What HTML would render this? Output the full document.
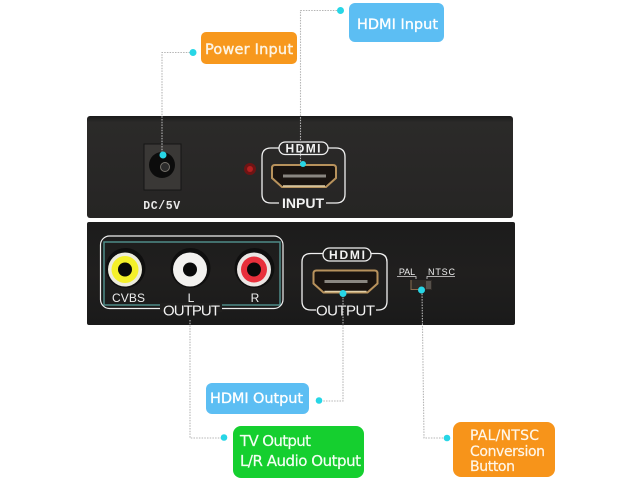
<!DOCTYPE html>
<html><head><meta charset="utf-8"><style>
html,body{margin:0;padding:0;background:#fff;width:640px;height:480px;overflow:hidden}
svg{display:block}
</style></head><body>
<svg width="640" height="480" viewBox="0 0 640 480" xmlns="http://www.w3.org/2000/svg" font-family="'Liberation Sans',sans-serif">
<defs>
<linearGradient id="p" x1="0" y1="0" x2="0" y2="1"><stop offset="0" stop-color="#1a1a1a"/><stop offset=".06" stop-color="#2b2a29"/><stop offset="1" stop-color="#262524"/></linearGradient>
<linearGradient id="q" x1="0" y1="0" x2="0" y2="1"><stop offset="0" stop-color="#1c1c1c"/><stop offset=".5" stop-color="#201f1e"/><stop offset="1" stop-color="#1a1a1a"/></linearGradient>
<g id="port">
<path d="M3 1 H61 Q64 1 64 4 V14 L54 23 H10 L0 14 V4 Q0 1 3 1Z" fill="#1a1410" stroke="#b8925c" stroke-width="2"/>
<rect x="11" y="10.500" width="43" height="3" fill="#8a8680"/>
<path d="M11 22 H53" stroke="#e0cfa8" stroke-width="1.500"/>
</g>
</defs>

<!-- Panels -->
<rect x="87" y="116" width="426" height="102" rx="3" fill="url(#p)"/>
<rect x="87" y="222" width="428" height="103" rx="2" fill="url(#q)"/>

<!-- Top panel -->
<rect x="144" y="144" width="37" height="46" fill="#3a3836" stroke="#151515"/>
<circle cx="162" cy="165" r="13" fill="#0c0c0c"/>
<circle cx="165" cy="167" r="4.500" fill="#2b2b2b" stroke="#77736c" stroke-width="1"/>
<text x="162" y="209" font-size="11.500" font-weight="bold" fill="#e8e8e8" text-anchor="middle" letter-spacing=".6" font-family="'Liberation Mono',monospace">DC/5V</text>
<circle cx="250" cy="169" r="6" fill="#6e1414"/><circle cx="250" cy="169" r="3" fill="#b32020"/>

<g fill="none" stroke="#f1f1f1" stroke-width="1.300">
<path d="M279 148 H271 Q262 148 262 157 V194 Q262 203 271 203 H279"/>
<path d="M328 148 H336 Q345 148 345 157 V194 Q345 203 336 203 H326"/>
<rect x="279" y="142" width="49" height="12.500" rx="6.200"/>
</g>
<text x="303" y="152.500" font-size="12" font-weight="bold" fill="#f2f2f2" text-anchor="middle" textLength="35">HDMI</text>
<text x="282" y="208" font-size="14" font-weight="bold" fill="#f2f2f2" textLength="42">INPUT</text>
<use href="#port" x="272" y="164"/>

<!-- Lower panel: RCA -->
<rect x="104" y="242" width="176" height="63" fill="none" stroke="#4f8b88" stroke-width="1.500"/>
<rect x="100.500" y="236" width="182.500" height="72.500" rx="9" fill="none" stroke="#efefef" stroke-width="1.200"/>
<rect x="160" y="303" width="62" height="9" fill="#201f1e"/>

<circle cx="125.500" cy="268" r="20" fill="#0f0f0f"/>
<circle cx="125" cy="269.500" r="17" fill="#ecebdc"/>
<circle cx="125" cy="269.500" r="13.500" fill="#f4f02a"/>
<circle cx="125" cy="269.500" r="7" fill="#0a0a0a"/>

<circle cx="190.500" cy="268" r="20" fill="#0f0f0f"/>
<circle cx="190" cy="269.500" r="17" fill="#f2f1ef"/>
<circle cx="190" cy="269.500" r="7" fill="#0a0a0a"/>

<circle cx="254.500" cy="268" r="20" fill="#0f0f0f"/>
<circle cx="254" cy="269.500" r="17" fill="#ebe6e4"/>
<circle cx="254" cy="269.500" r="13" fill="#e8303c"/>
<circle cx="254" cy="269.500" r="7" fill="#0a0a0a"/>

<g fill="#eeeeee" font-size="12" text-anchor="middle">
<text x="128.500" y="302" textLength="33">CVBS</text>
<text x="191" y="302">L</text>
<text x="255" y="302">R</text>
</g>
<text x="163" y="315.500" font-size="15" fill="#f2f2f2" textLength="57">OUTPUT</text>

<!-- Lower panel: HDMI -->
<g fill="none" stroke="#f1f1f1" stroke-width="1.300">
<path d="M323 253.500 H311 Q302 253.500 302 262 V301 Q302 310 311 310 H316"/>
<path d="M371 253.500 H378 Q387 253.500 387 262 V301 Q387 310 378 310 H376"/>
<rect x="323" y="248" width="48" height="13" rx="6.500"/>
</g>
<text x="347" y="259" font-size="12" font-weight="bold" fill="#f2f2f2" text-anchor="middle" textLength="36">HDMI</text>
<text x="316" y="315.500" font-size="15" fill="#f2f2f2" textLength="59">OUTPUT</text>
<use href="#port" x="313.500" y="269.500"/>

<!-- Switch -->
<text x="407" y="275" font-size="9" fill="#eee" text-anchor="middle">PAL</text>
<text x="441.500" y="275" font-size="9" fill="#eee" text-anchor="middle" textLength="27">NTSC</text>
<path d="M397 276.500 H416 V279 M427 279 V276.500 H455" fill="none" stroke="#ddd" stroke-width=".8"/>
<rect x="411" y="280" width="21" height="10" fill="#2f2a26"/>
<path d="M411 280 V289.500 H421" fill="none" stroke="#8a6e50" stroke-width="1"/>
<rect x="426" y="281" width="5" height="8" fill="#55504a"/>

<!-- Connectors -->
<g fill="none" stroke="#b5b5b5" stroke-width="1.100" stroke-dasharray="1.500 1.200">
<path d="M190 52.500 H162 V155"/>
<path d="M337 10.500 H300.500 V164"/>
<path d="M190 320 V438 H221"/>
<path d="M343 295 V401 H323"/>
<path d="M422 291 L424 438 H444"/>
</g>

<!-- Dots -->
<g fill="#27d6e6">
<circle cx="163" cy="155" r="3.500"/>
<circle cx="303" cy="164" r="3"/>
<circle cx="193" cy="52.500" r="3.500"/>
<circle cx="340.500" cy="10.500" r="3.500"/>
<circle cx="343" cy="293.500" r="3.500"/>
<circle cx="421.500" cy="290" r="3.500"/>
<circle cx="319" cy="400.500" r="3.300"/>
<circle cx="224" cy="437.500" r="3.300"/>
<circle cx="447" cy="438" r="3.300"/>
</g>

<!-- Callouts -->
<g font-family="'DejaVu Sans',sans-serif">
<rect x="201" y="32" width="96" height="32" rx="5" fill="#f7981d"/>
<text x="205" y="54" font-size="14.500" fill="#fdf4e4" stroke="#fdf4e4" stroke-width=".4" textLength="88">Power Input</text>

<rect x="349" y="3" width="95" height="39" rx="6" fill="#5cbef3"/>
<text x="357" y="29" font-size="14.500" fill="#fff" stroke="#fff" stroke-width=".3" textLength="81">HDMI Input</text>

<rect x="206" y="383" width="103" height="31" rx="6" fill="#5cbef3"/>
<text x="210" y="403" font-size="14.500" fill="#fff" stroke="#fff" stroke-width=".3" textLength="93">HDMI Output</text>

<rect x="233" y="426" width="131" height="52" rx="8" fill="#15cf2f"/>
<text x="240" y="446" font-size="15" fill="#f4fff4" stroke="#f4fff4" stroke-width=".2" textLength="71">TV Output</text>
<text x="240" y="466" font-size="15" fill="#f4fff4" stroke="#f4fff4" stroke-width=".2" textLength="121">L/R Audio Output</text>

<rect x="453" y="422" width="102" height="55" rx="8" fill="#f7941a"/>
<g font-size="14" fill="#fff6e8" stroke="#fff6e8" stroke-width=".2">
<text x="470" y="440" textLength="69">PAL/NTSC</text>
<text x="470" y="456" textLength="75">Conversion</text>
<text x="470" y="471" textLength="45">Button</text>
</g>
</g>
</svg>
</body></html>
